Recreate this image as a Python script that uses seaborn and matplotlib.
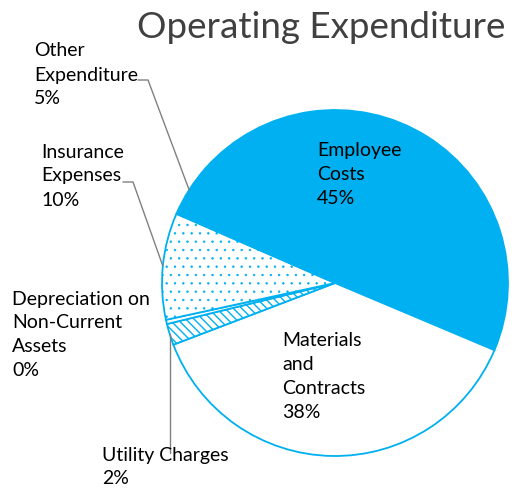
import numpy as np
import matplotlib.pyplot as plt
import seaborn as sns

# data
categories = ['Employee\nCosts', 'Materials\nand\nContracts', 'Utility Charges',
              'Depreciation on\nNon-Current\nAssets', 'Insurance\nExpenses', 'Other\nExpenditure']
values = [45, 38, 2, 0.4, 10, 5]
pct_labels = ['45%', '38%', '2%', '0%', '10%', '5%']

blue = '#00B0F0'
fills = [blue, 'white', 'white', 'white', 'white', blue]
hatches = [None, None, '\\\\\\\\', None, '..', None]
hatch_lw = [1.0, 1.0, 1.0, 1.0, 0.5, 1.0]

sns.set_theme(style='white')
plt.rcParams['font.family'] = ['Lato', 'DejaVu Sans']
plt.rcParams['hatch.linewidth'] = 1.0

W, H = 516, 492
fig = plt.figure(figsize=(W / 100, H / 100), dpi=100)
ax = fig.add_axes([0, 0, 1, 1])

cx, cy, r = 335, H - 283, 173
wedges, _ = ax.pie(values, colors=fills, startangle=138.5, counterclock=False,
                   center=(cx, cy), radius=r,
                   wedgeprops=dict(edgecolor=blue, linewidth=1.3))
for w, h, lw in zip(wedges, hatches, hatch_lw):
    if h:
        w.set_hatch(h)
        if hasattr(w, 'set_hatch_linewidth'):
            w.set_hatch_linewidth(lw)

ax.set_xlim(0, W)
ax.set_ylim(0, H)
ax.set_aspect('equal')
ax.axis('off')


def anchor(w):
    a = np.deg2rad((w.theta1 + w.theta2) / 2)
    return cx + r * np.cos(a), cy + r * np.sin(a)


# label layout (pixel coords from top-left)
label_pos = {
    0: (317, 174.5),
    1: (282, 377),
    2: (102, 467),
    3: (12, 335),
    4: (41, 176),
    5: (34, 75),
}
for i, (x, y) in label_pos.items():
    txt = categories[i] + '\n' + pct_labels[i]
    ax.text(x, H - y, txt, ha='left', va='center', fontsize=14,
            color='black', linespacing=1.5)

# leader lines
gray = '#808080'
ox, oy = anchor(wedges[5])
ax.plot([138, 148, ox], [H - 80, H - 80, oy], color=gray, lw=1)
ix, iy = anchor(wedges[4])
ax.plot([123, 133, ix], [H - 182, H - 182, iy], color=gray, lw=1)
ux, uy = anchor(wedges[2])
ax.plot([ux, ux], [H - 453, uy], color=gray, lw=1)

ax.text(505, H - 27, 'Operating Expenditure', ha='right', va='center',
        fontsize=26.5, color='#404040')

fig.savefig('out.png', dpi=100)
